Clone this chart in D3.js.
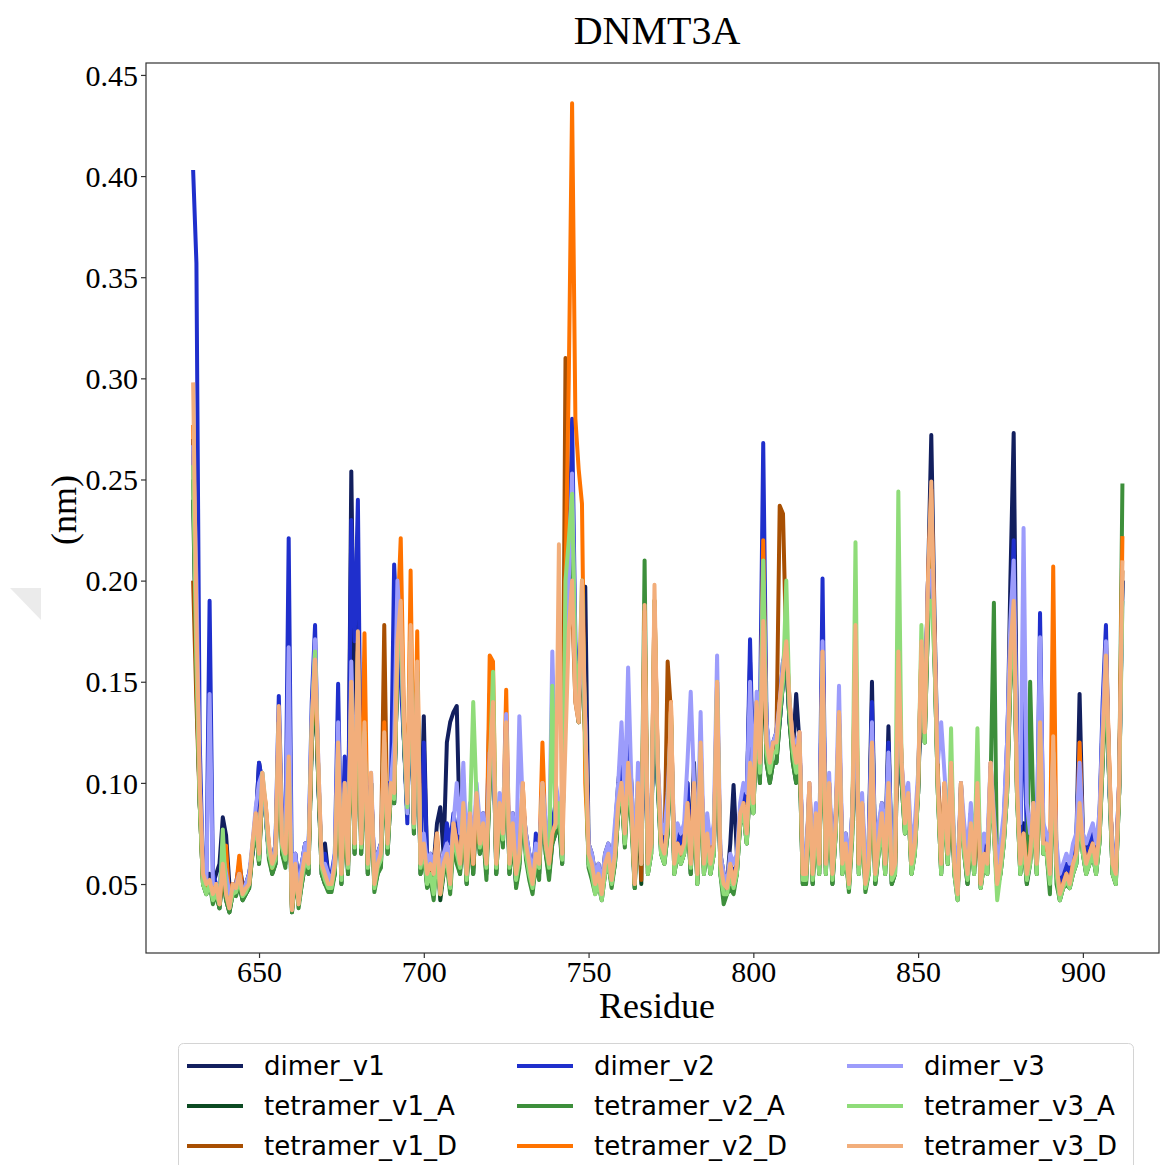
<!DOCTYPE html>
<html>
<head>
<meta charset="utf-8">
<script src="https://cdn.jsdelivr.net/npm/d3@7"></script>
<style>
  body { margin: 0; background: #fff; }
  svg { display: block; }
</style>
</head>
<body>
<div id="chart-area"></div>
<script>
// residues 630..912, one value per residue (nm)
var firstResidue = 630;

var dimer_v1 = [
  .27,.16,.09,.06,.05,.055,.05,.055,.06,.083,
  .074,.05,.045,.05,.06,.05,.05,.055,.065,.08,
  .11,.1,.085,.065,.06,.07,.12,.075,.07,.1,
  .045,.065,.05,.06,.07,.065,.12,.15,.1,.06,
  .07,.055,.055,.06,.11,.06,.09,.065,.254,.13,
  .2,.075,.11,.065,.1,.055,.065,.07,.11,.075,
  .095,.09,.16,.18,.12,.085,.15,.085,.14,.065,
  .133,.06,.065,.06,.08,.088,.065,.12,.13,.135,
  .138,.07,.095,.06,.08,.065,.09,.075,.085,.065,
  .144,.13,.07,.085,.08,.12,.065,.085,.06,.07,
  .09,.075,.065,.055,.07,.065,.095,.075,.065,.08,
  .085,.09,.07,.16,.2,.23,.16,.14,.18,.197,
  .07,.065,.055,.06,.05,.065,.07,.06,.075,.1,
  .116,.085,.12,.1,.06,.095,.06,.16,.065,.075,
  .16,.1,.075,.07,.09,.12,.065,.075,.07,.075,
  .1,.065,.11,.06,.115,.065,.08,.065,.075,.13,
  .065,.055,.05,.07,.099,.065,.08,.095,.09,.16,
  .1,.13,.12,.2,.13,.11,.12,.125,.14,.16,
  .165,.13,.115,.144,.12,.06,.06,.095,.06,.08,
  .065,.17,.065,.095,.06,.085,.12,.065,.075,.055,
  .085,.14,.065,.085,.055,.07,.15,.06,.075,.09,
  .065,.128,.06,.065,.15,.1,.085,.09,.065,.075,
  .095,.15,.13,.2,.272,.18,.105,.065,.095,.07,
  .1,.065,.05,.095,.075,.06,.085,.065,.09,.055,
  .07,.065,.1,.085,.055,.065,.08,.11,.2,.273,
  .12,.065,.08,.06,.07,.085,.065,.14,.075,.075,
  .06,.11,.065,.05,.055,.06,.055,.065,.07,.144,
  .075,.065,.07,.075,.065,.08,.13,.165,.1,.065,
  .06,.095,.2
];

var dimer_v2 = [
  .403,.357,.12,.055,.05,.19,.055,.05,.045,.07,
  .06,.045,.045,.05,.055,.045,.05,.055,.065,.08,
  .11,.1,.085,.065,.06,.07,.143,.08,.07,.221,
  .045,.065,.05,.06,.07,.065,.14,.178,.1,.06,
  .065,.055,.055,.065,.149,.06,.113,.07,.23,.17,
  .24,.08,.12,.065,.1,.055,.065,.07,.1,.1,
  .095,.208,.17,.15,.12,.08,.16,.08,.14,.06,
  .12,.06,.06,.055,.07,.06,.06,.08,.07,.085,
  .075,.065,.09,.06,.085,.065,.09,.075,.08,.06,
  .12,.125,.065,.09,.08,.11,.06,.08,.05,.065,
  .085,.07,.065,.05,.075,.06,.09,.075,.06,.08,
  .09,.085,.07,.15,.2,.28,.17,.14,.16,.14,
  .065,.06,.05,.055,.05,.06,.065,.055,.075,.085,
  .11,.08,.12,.095,.055,.09,.06,.15,.065,.075,
  .15,.1,.07,.07,.085,.12,.06,.075,.07,.075,
  .1,.065,.1,.06,.11,.06,.08,.065,.07,.12,
  .06,.05,.048,.06,.055,.06,.08,.095,.09,.171,
  .1,.14,.13,.268,.13,.11,.12,.12,.13,.15,
  .16,.13,.12,.11,.12,.06,.055,.095,.06,.085,
  .065,.201,.06,.1,.06,.08,.13,.065,.07,.055,
  .08,.14,.065,.09,.055,.065,.14,.06,.075,.085,
  .06,.12,.06,.065,.15,.1,.085,.09,.065,.07,
  .1,.15,.13,.2,.24,.17,.1,.065,.095,.07,
  .1,.065,.05,.095,.075,.06,.085,.06,.09,.055,
  .07,.06,.1,.08,.055,.06,.08,.12,.17,.22,
  .12,.07,.15,.07,.065,.08,.065,.184,.075,.07,
  .06,.11,.065,.05,.055,.06,.055,.065,.07,.12,
  .07,.065,.07,.075,.065,.08,.14,.178,.1,.065,
  .06,.1,.2
];

var dimer_v3 = [
  .267,.2,.1,.055,.05,.144,.05,.05,.045,.065,
  .055,.045,.045,.05,.055,.045,.05,.055,.07,.088,
  .1,.105,.085,.065,.06,.07,.13,.075,.07,.167,
  .04,.065,.045,.06,.07,.065,.13,.171,.11,.06,
  .06,.055,.05,.065,.13,.06,.1,.065,.16,.1,
  .15,.075,.12,.065,.105,.055,.065,.07,.115,.075,
  .1,.12,.2,.17,.125,.085,.165,.08,.15,.06,
  .075,.06,.065,.06,.07,.055,.065,.07,.06,.08,
  .1,.075,.11,.065,.09,.065,.1,.08,.085,.065,
  .115,.12,.065,.095,.08,.134,.065,.085,.06,.133,
  .09,.075,.065,.055,.07,.065,.1,.08,.065,.165,
  .1,.09,.075,.16,.2,.253,.16,.14,.17,.13,
  .07,.065,.055,.06,.05,.065,.07,.06,.08,.1,
  .13,.09,.157,.1,.06,.11,.065,.16,.07,.08,
  .17,.11,.08,.075,.095,.13,.07,.08,.075,.08,
  .11,.145,.1,.07,.135,.065,.085,.07,.08,.163,
  .065,.055,.05,.065,.06,.065,.09,.1,.095,.15,
  .1,.145,.13,.2,.13,.115,.12,.125,.14,.16,
  .17,.14,.12,.12,.125,.065,.06,.1,.065,.09,
  .07,.17,.065,.105,.06,.085,.148,.065,.075,.06,
  .085,.14,.07,.095,.06,.07,.13,.065,.08,.09,
  .07,.115,.065,.07,.15,.11,.09,.1,.07,.08,
  .105,.16,.13,.2,.205,.17,.11,.13,.105,.08,
  .11,.07,.055,.1,.08,.065,.09,.07,.1,.06,
  .075,.07,.11,.085,.06,.07,.085,.12,.18,.21,
  .12,.08,.226,.09,.075,.09,.07,.172,.08,.075,
  .065,.115,.07,.055,.06,.065,.06,.07,.075,.11,
  .075,.07,.075,.08,.07,.085,.13,.17,.1,.065,
  .06,.1,.19
];

var tetramer_v1_A = [
  .24,.15,.09,.05,.045,.05,.042,.045,.038,.055,
  .042,.036,.045,.045,.05,.042,.045,.048,.065,.08,
  .06,.1,.085,.065,.055,.06,.12,.065,.06,.1,
  .036,.055,.04,.05,.06,.055,.12,.15,.1,.055,
  .05,.048,.048,.055,.11,.05,.09,.055,.14,.065,
  .16,.065,.12,.055,.1,.048,.055,.06,.115,.065,
  .095,.09,.16,.17,.12,.085,.16,.075,.15,.055,
  .065,.05,.055,.05,.07,.042,.055,.06,.048,.075,
  .065,.055,.085,.05,.08,.055,.09,.065,.075,.055,
  .1,.13,.055,.085,.07,.12,.055,.075,.05,.06,
  .09,.065,.055,.048,.06,.055,.095,.065,.055,.07,
  .075,.08,.06,.18,.2,.21,.15,.13,.18,.12,
  .06,.055,.048,.05,.042,.055,.06,.05,.06,.085,
  .095,.07,.1,.085,.048,.09,.05,.17,.055,.065,
  .18,.1,.065,.06,.075,.13,.055,.065,.06,.065,
  .085,.055,.095,.05,.11,.055,.07,.055,.065,.14,
  .055,.045,.045,.055,.048,.055,.08,.085,.07,.1,
  .085,.13,.1,.17,.11,.1,.11,.11,.13,.15,
  .16,.13,.11,.1,.115,.05,.05,.095,.05,.08,
  .055,.15,.055,.095,.05,.075,.125,.055,.065,.048,
  .075,.16,.055,.085,.048,.055,.11,.05,.065,.08,
  .055,.095,.05,.055,.15,.1,.075,.09,.055,.065,
  .095,.16,.12,.18,.23,.16,.095,.055,.095,.06,
  .1,.055,.042,.095,.065,.05,.075,.055,.095,.048,
  .06,.055,.1,.075,.048,.055,.07,.095,.15,.18,
  .095,.055,.07,.05,.06,.085,.055,.12,.065,.065,
  .05,.115,.055,.042,.048,.05,.048,.055,.06,.085,
  .065,.055,.06,.065,.055,.07,.11,.15,.1,.055,
  .05,.095,.2
];

var tetramer_v1_D = [
  .2,.14,.09,.05,.048,.05,.045,.05,.04,.058,
  .045,.038,.05,.048,.055,.045,.048,.052,.068,.082,
  .062,.1,.088,.068,.058,.062,.13,.068,.062,.11,
  .038,.058,.042,.055,.062,.058,.125,.155,.105,.058,
  .052,.05,.05,.058,.115,.055,.095,.058,.145,.068,
  .165,.068,.125,.06,.1,.05,.06,.065,.178,.07,
  .1,.095,.165,.185,.125,.09,.17,.08,.155,.06,
  .068,.055,.058,.055,.072,.045,.058,.062,.05,.078,
  .068,.058,.088,.052,.082,.058,.092,.068,.078,.058,
  .105,.135,.058,.088,.072,.125,.058,.078,.052,.062,
  .095,.068,.058,.05,.062,.058,.098,.068,.058,.072,
  .078,.09,.065,.31,.2,.19,.14,.13,.19,.125,
  .062,.058,.05,.052,.045,.058,.062,.05,.062,.088,
  .098,.072,.108,.088,.05,.098,.052,.18,.058,.068,
  .19,.108,.068,.062,.16,.135,.058,.068,.062,.068,
  .088,.058,.098,.052,.118,.058,.072,.058,.068,.145,
  .058,.05,.048,.058,.05,.058,.082,.088,.072,.108,
  .088,.135,.108,.175,.118,.108,.118,.12,.237,.233,
  .165,.138,.118,.108,.12,.055,.055,.098,.055,.082,
  .058,.16,.058,.098,.055,.078,.13,.058,.068,.05,
  .078,.17,.058,.088,.05,.058,.118,.055,.068,.082,
  .058,.098,.055,.058,.16,.108,.078,.092,.058,.068,
  .098,.165,.122,.195,.24,.165,.098,.058,.098,.062,
  .108,.058,.045,.098,.068,.055,.078,.058,.098,.05,
  .062,.058,.108,.078,.05,.058,.072,.098,.16,.185,
  .098,.058,.072,.055,.062,.088,.058,.128,.068,.068,
  .055,.12,.058,.045,.05,.055,.05,.058,.062,.088,
  .068,.058,.062,.068,.058,.072,.118,.16,.108,.058,
  .055,.098,.205
];

var tetramer_v2_A = [
  .25,.16,.09,.05,.045,.05,.04,.045,.038,.055,
  .042,.036,.045,.044,.05,.042,.045,.048,.065,.08,
  .06,.098,.085,.062,.055,.06,.125,.065,.058,.105,
  .036,.055,.038,.05,.06,.055,.12,.155,.1,.055,
  .05,.046,.046,.055,.11,.05,.09,.055,.14,.065,
  .16,.065,.12,.055,.1,.046,.055,.058,.115,.065,
  .095,.09,.16,.175,.12,.085,.165,.075,.15,.055,
  .065,.048,.052,.042,.065,.045,.055,.06,.045,.07,
  .06,.055,.085,.05,.08,.055,.09,.065,.075,.052,
  .1,.13,.055,.085,.068,.12,.055,.075,.048,.058,
  .09,.062,.052,.045,.06,.052,.095,.065,.052,.07,
  .075,.085,.06,.17,.21,.22,.16,.13,.18,.12,
  .058,.052,.045,.05,.045,.055,.06,.048,.06,.085,
  .095,.068,.1,.08,.048,.09,.06,.21,.055,.065,
  .175,.1,.065,.06,.075,.13,.055,.065,.06,.065,
  .085,.055,.095,.05,.11,.055,.07,.055,.065,.14,
  .055,.04,.045,.048,.045,.055,.08,.085,.07,.1,
  .085,.13,.1,.2,.11,.1,.11,.11,.13,.15,
  .16,.13,.11,.1,.115,.05,.05,.095,.05,.08,
  .055,.15,.055,.095,.05,.075,.125,.055,.065,.046,
  .072,.16,.055,.085,.046,.055,.11,.05,.065,.08,
  .055,.095,.05,.055,.15,.1,.075,.09,.055,.065,
  .095,.16,.12,.18,.23,.16,.095,.055,.095,.06,
  .1,.055,.045,.1,.065,.05,.075,.055,.095,.048,
  .06,.055,.1,.189,.048,.055,.07,.095,.15,.18,
  .095,.055,.07,.05,.15,.085,.055,.12,.065,.065,
  .045,.115,.05,.042,.048,.05,.048,.055,.06,.085,
  .065,.055,.06,.065,.055,.07,.11,.15,.1,.055,
  .05,.095,.248
];

var tetramer_v2_D = [
  .277,.17,.095,.052,.048,.05,.045,.05,.04,.06,
  .069,.04,.05,.048,.064,.045,.048,.05,.068,.085,
  .065,.1,.09,.068,.058,.065,.13,.07,.065,.11,
  .038,.058,.042,.055,.065,.06,.125,.16,.105,.06,
  .055,.05,.05,.06,.115,.055,.095,.06,.15,.07,
  .17,.07,.174,.065,.1,.052,.06,.065,.13,.072,
  .1,.095,.18,.221,.13,.09,.205,.08,.175,.06,
  .07,.055,.06,.055,.075,.048,.06,.065,.052,.08,
  .07,.06,.09,.055,.085,.06,.095,.07,.08,.06,
  .163,.16,.06,.09,.075,.146,.06,.08,.055,.065,
  .1,.07,.06,.05,.065,.06,.12,.07,.06,.075,
  .08,.09,.065,.2,.3,.436,.28,.255,.238,.1,
  .065,.06,.05,.055,.045,.06,.065,.052,.065,.09,
  .1,.075,.11,.09,.05,.1,.06,.185,.06,.07,
  .19,.11,.07,.065,.08,.14,.06,.07,.065,.07,
  .09,.06,.1,.055,.12,.06,.075,.06,.07,.15,
  .06,.05,.048,.06,.05,.06,.085,.09,.075,.11,
  .09,.14,.11,.22,.12,.11,.12,.12,.14,.155,
  .17,.14,.12,.11,.125,.055,.055,.1,.055,.085,
  .06,.165,.06,.1,.055,.08,.135,.06,.07,.05,
  .08,.17,.06,.09,.05,.06,.12,.055,.07,.085,
  .06,.1,.055,.06,.16,.11,.08,.095,.06,.07,
  .1,.165,.125,.2,.245,.17,.1,.06,.1,.065,
  .11,.06,.045,.1,.07,.055,.08,.06,.1,.05,
  .065,.06,.11,.08,.05,.06,.075,.1,.17,.2,
  .1,.06,.075,.055,.065,.09,.06,.13,.07,.07,
  .055,.207,.06,.045,.05,.055,.05,.06,.065,.12,
  .07,.06,.065,.07,.06,.075,.12,.168,.11,.06,
  .055,.1,.222
];

var tetramer_v3_A = [
  .257,.16,.09,.05,.045,.05,.042,.045,.04,.077,
  .045,.038,.045,.046,.052,.044,.046,.05,.068,.082,
  .062,.105,.088,.065,.058,.062,.13,.068,.062,.11,
  .038,.058,.04,.052,.062,.058,.128,.165,.105,.058,
  .052,.048,.048,.058,.115,.052,.095,.058,.145,.068,
  .165,.068,.125,.058,.1,.048,.058,.062,.12,.068,
  .098,.092,.165,.18,.125,.088,.17,.078,.155,.058,
  .068,.05,.055,.045,.065,.045,.058,.062,.048,.075,
  .065,.058,.088,.052,.082,.14,.092,.068,.078,.058,
  .105,.155,.058,.088,.072,.125,.058,.078,.052,.062,
  .095,.065,.055,.048,.062,.058,.098,.068,.058,.148,
  .078,.09,.062,.2,.22,.243,.16,.14,.2,.12,
  .06,.055,.045,.05,.042,.055,.06,.05,.062,.088,
  .098,.07,.105,.085,.05,.095,.06,.175,.055,.065,
  .19,.105,.065,.06,.078,.135,.055,.065,.06,.065,
  .085,.058,.095,.05,.115,.055,.07,.055,.065,.15,
  .055,.045,.045,.055,.048,.055,.08,.085,.07,.105,
  .085,.135,.105,.21,.115,.105,.115,.115,.135,.15,
  .2,.135,.115,.105,.12,.052,.052,.095,.052,.08,
  .055,.16,.055,.095,.052,.075,.13,.055,.065,.048,
  .075,.219,.055,.085,.048,.055,.115,.052,.065,.08,
  .055,.095,.052,.055,.244,.105,.075,.09,.055,.065,
  .095,.178,.12,.19,.19,.16,.095,.055,.095,.06,
  .127,.055,.042,.095,.065,.052,.075,.055,.127,.048,
  .06,.055,.1,.075,.042,.055,.07,.095,.155,.18,
  .095,.055,.07,.052,.06,.085,.055,.125,.065,.065,
  .05,.115,.055,.042,.048,.052,.048,.055,.06,.085,
  .065,.055,.06,.065,.055,.07,.115,.155,.105,.055,
  .05,.095,.19
];

var tetramer_v3_D = [
  .298,.18,.10,.055,.05,.052,.045,.05,.04,.06,
  .045,.038,.05,.048,.055,.045,.048,.05,.07,.085,
  .065,.105,.09,.07,.06,.065,.138,.07,.065,.113,
  .037,.06,.04,.055,.065,.06,.13,.161,.11,.06,
  .055,.05,.05,.06,.12,.055,.1,.06,.15,.07,
  .175,.07,.13,.06,.105,.05,.06,.065,.125,.07,
  .1,.095,.17,.19,.13,.09,.178,.08,.16,.06,
  .07,.055,.06,.055,.075,.045,.06,.065,.05,.08,
  .07,.06,.09,.055,.085,.06,.095,.07,.08,.06,
  .11,.14,.06,.09,.075,.13,.06,.08,.055,.065,
  .1,.07,.06,.05,.065,.06,.1,.07,.06,.075,
  .08,.218,.065,.12,.175,.2,.14,.13,.2,.13,
  .065,.06,.05,.055,.045,.06,.065,.052,.065,.09,
  .1,.075,.11,.09,.05,.1,.06,.188,.06,.07,
  .198,.11,.07,.065,.08,.14,.06,.07,.065,.07,
  .09,.06,.1,.055,.12,.06,.075,.06,.07,.15,
  .06,.05,.048,.06,.05,.06,.085,.09,.075,.11,
  .09,.14,.11,.18,.12,.11,.12,.12,.14,.155,
  .17,.14,.12,.11,.125,.055,.055,.1,.055,.085,
  .06,.165,.06,.1,.055,.08,.135,.06,.07,.05,
  .08,.178,.06,.09,.05,.06,.12,.055,.07,.085,
  .06,.1,.055,.06,.165,.11,.08,.095,.06,.07,
  .1,.17,.125,.2,.249,.17,.1,.06,.1,.065,
  .11,.06,.045,.1,.07,.055,.08,.06,.1,.05,
  .065,.06,.11,.08,.05,.06,.075,.1,.165,.19,
  .1,.06,.075,.055,.065,.09,.06,.13,.07,.07,
  .055,.123,.06,.045,.05,.055,.05,.06,.065,.09,
  .07,.06,.065,.07,.06,.075,.12,.163,.11,.06,
  .055,.1,.21
];

var xTicks = [650, 700, 750, 800, 850, 900];
var yTicks = [0.05, 0.10, 0.15, 0.20, 0.25, 0.30, 0.35, 0.40, 0.45];

// plot order = legend order (column-wise, 3 columns)
var series = [
  { name: "dimer_v1",      values: dimer_v1,      color: "#121f5e" },
  { name: "tetramer_v1_A", values: tetramer_v1_A, color: "#0c4a22" },
  { name: "tetramer_v1_D", values: tetramer_v1_D, color: "#a84f02" },
  { name: "dimer_v2",      values: dimer_v2,      color: "#1f2fcc" },
  { name: "tetramer_v2_A", values: tetramer_v2_A, color: "#3d8f3b" },
  { name: "tetramer_v2_D", values: tetramer_v2_D, color: "#ff7300" },
  { name: "dimer_v3",      values: dimer_v3,      color: "#9c9cfb" },
  { name: "tetramer_v3_A", values: tetramer_v3_A, color: "#8fdc79" },
  { name: "tetramer_v3_D", values: tetramer_v3_D, color: "#f2ae7b" }
];

var serif = "'Liberation Serif', 'Times New Roman', serif";

var W = 1160, H = 1165;
var margin = { left: 146, right: 1, top: 63, bottom: 212 };
var width = W - margin.left - margin.right,
    height = H - margin.top - margin.bottom;

var svg = d3.select("#chart-area")
  .append("svg")
    .attr("width", W)
    .attr("height", H);

// faint grey corner mark at the left edge
svg.append("polygon")
  .attr("points", "10,588 41,588 41,620")
  .attr("fill", "#ebebeb");

var g = svg.append("g")
  .attr("transform", "translate(" + margin.left + "," + margin.top + ")");

var x = d3.scaleLinear()
  .domain([615.7, 923.1])
  .range([0, width]);

var y = d3.scaleLinear()
  .domain([0.0159, 0.4559])
  .range([height, 0]);

// Lines
var line = d3.line()
  .x(function(d, i) { return x(firstResidue + i); })
  .y(function(d) { return y(d); });

series.forEach(function(s) {
  g.append("path")
    .datum(s.values)
    .attr("fill", "none")
    .attr("stroke", s.color)
    .attr("stroke-width", 4)
    .attr("stroke-linejoin", "round")
    .attr("d", line);
});

// Frame
g.append("rect")
  .attr("width", width)
  .attr("height", height)
  .attr("fill", "none")
  .attr("stroke", "#333")
  .attr("stroke-width", 1.2);

// Axes
var xAxis = g.append("g")
  .attr("transform", "translate(0," + height + ")")
  .call(d3.axisBottom(x).tickValues(xTicks).tickSize(5).tickFormat(d3.format("d")));

var yAxis = g.append("g")
  .call(d3.axisLeft(y).tickValues(yTicks).tickSize(5).tickFormat(d3.format(".2f")));

[xAxis, yAxis].forEach(function(a) {
  a.attr("font-family", serif).attr("font-size", 30);
  a.select(".domain").remove();
  a.selectAll("line").attr("stroke", "#333").attr("stroke-width", 1.2);
  a.selectAll("text").attr("fill", "#000");
});
xAxis.selectAll("text").attr("y", 7).attr("dy", "0.72em");
yAxis.selectAll("text").attr("x", -8).attr("dy", "0.34em");

// Title
svg.append("text")
  .attr("x", 657)
  .attr("y", 44)
  .attr("text-anchor", "middle")
  .attr("font-family", serif)
  .attr("font-size", "40px")
  .text("DNMT3A");

// X Label
svg.append("text")
  .attr("x", 657)
  .attr("y", 1018)
  .attr("text-anchor", "middle")
  .attr("font-family", serif)
  .attr("font-size", "36px")
  .text("Residue");

// Y Label
svg.append("text")
  .attr("transform", "translate(76,510) rotate(-90)")
  .attr("text-anchor", "middle")
  .attr("font-family", serif)
  .attr("font-size", "36px")
  .text("(nm)");

// Legend
var legend = svg.append("g");

legend.append("rect")
  .attr("x", 178.5)
  .attr("y", 1043.5)
  .attr("width", 955)
  .attr("height", 140)
  .attr("rx", 5)
  .attr("fill", "#fff")
  .attr("stroke", "#d4d4d4")
  .attr("stroke-width", 1);

var colX = [187, 517, 847];
var rowY = [1066, 1106, 1146];

series.forEach(function(s, i) {
  var cx = colX[Math.floor(i / 3)],
      cy = rowY[i % 3];
  legend.append("line")
    .attr("x1", cx).attr("x2", cx + 56)
    .attr("y1", cy).attr("y2", cy)
    .attr("stroke", s.color)
    .attr("stroke-width", 4);
  legend.append("text")
    .attr("x", cx + 77)
    .attr("y", cy)
    .attr("dy", "0.35em")
    .attr("font-family", "'DejaVu Sans', sans-serif")
    .attr("font-size", "26px")
    .text(s.name);
});
</script>
</body>
</html>
